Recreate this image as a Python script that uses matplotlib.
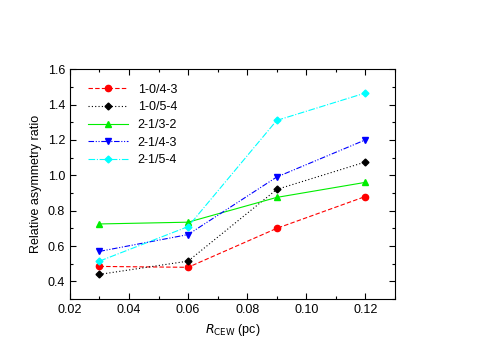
import matplotlib
matplotlib.use("Agg")
import matplotlib.pyplot as plt

plt.rcParams['font.family'] = ['Liberation Sans', 'DejaVu Sans']

# data
r_cew = [0.03, 0.06, 0.09, 0.12]
labels = ["1-0/4-3", "1-0/5-4", "2-1/3-2", "2-1/4-3", "2-1/5-4"]
ratio_10_43 = [0.485, 0.48, 0.70, 0.88]
ratio_10_54 = [0.44, 0.515, 0.92, 1.075]
ratio_21_32 = [0.725, 0.735, 0.875, 0.96]
ratio_21_43 = [0.57, 0.665, 0.99, 1.20]
ratio_21_54 = [0.515, 0.71, 1.31, 1.465]

series = [ratio_10_43, ratio_10_54, ratio_21_32, ratio_21_43, ratio_21_54]
colors = ["#ff0000", "#000000", "#00ee00", "#0000ff", "#00ffff"]
markers = ["o", "D", "^", "v", "D"]
styles = [(0, (4, 2)), (0, (1, 2)), "-", (0, (5, 1.5, 1, 1.5, 1, 1.5)), (0, (6, 1.5, 1, 1.5))]
msizes = [4.5, 3.5, 4.5, 4.5, 3.5]

fig = plt.figure(figsize=(5.03, 3.6), dpi=100)
ax = fig.add_axes([0.139, 0.169, 0.646, 0.639])

for y, lab, c, m, ls, ms in zip(series, labels, colors, markers, styles, msizes):
    ax.plot(r_cew, y, color=c, marker=m, linestyle=ls, linewidth=0.8,
            markersize=ms, label=lab)

ax.set_xlim(0.02, 0.13)
ax.set_ylim(0.3, 1.6)
ax.set_xticks([0.02, 0.04, 0.06, 0.08, 0.10, 0.12])
ax.set_xticklabels(["0.02", "0.04", "0.06", "0.08", "0.10", "0.12"])
ax.set_xticks([0.03, 0.05, 0.07, 0.09, 0.11, 0.13], minor=True)
ax.set_yticks([0.4, 0.6, 0.8, 1.0, 1.2, 1.4, 1.6])
ax.set_yticks([0.3, 0.5, 0.7, 0.9, 1.1, 1.3, 1.5], minor=True)
ax.tick_params(which="both", direction="in", top=True, right=True, labelsize=9)
ax.tick_params(which="major", length=4, width=0.8)
ax.tick_params(which="minor", length=2, width=0.8)

ax.set_xlabel(r"$R_{\rm CEW}$ (pc)", fontsize=9)
ax.set_ylabel("Relative asymmetry ratio", fontsize=9)

ax.legend(loc="upper left", frameon=False, fontsize=9, handlelength=3.2,
          labelspacing=0.45, bbox_to_anchor=(0.02, 0.985))

fig.savefig("out.png", dpi=100)
